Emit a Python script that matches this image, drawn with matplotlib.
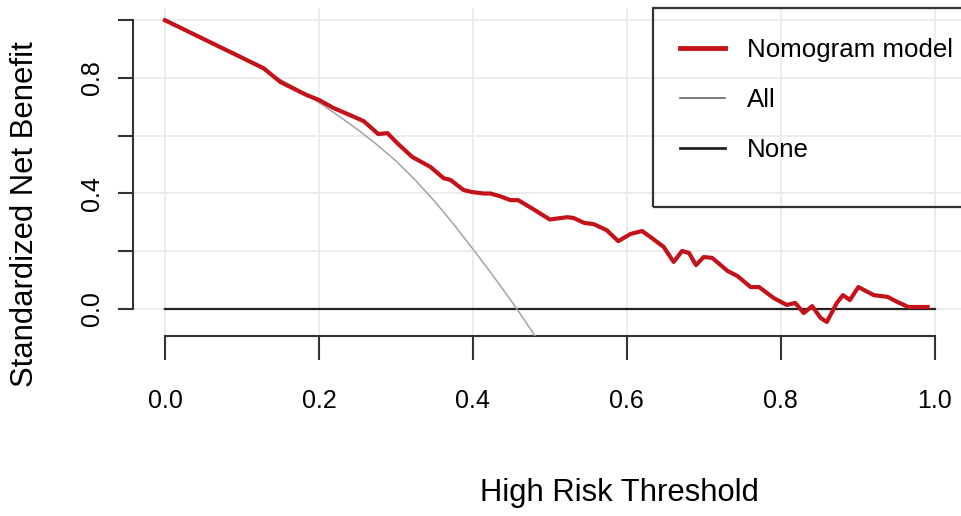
import matplotlib
matplotlib.use("Agg")
import matplotlib.pyplot as plt
from matplotlib.lines import Line2D
from matplotlib.patches import Rectangle

plt.rcParams['font.family'] = ['Liberation Sans', 'DejaVu Sans']

# --- DATA ---
# nomogram model: threshold vs standardized net benefit
model_x = [0.0, 0.128, 0.15, 0.184, 0.2, 0.219, 0.24, 0.258, 0.267, 0.277,
           0.289, 0.302, 0.321, 0.345, 0.362, 0.371, 0.388, 0.399, 0.414,
           0.423, 0.436, 0.449, 0.459, 0.479, 0.5, 0.523, 0.531, 0.545,
           0.557, 0.574, 0.589, 0.605, 0.62, 0.631, 0.648, 0.661, 0.672,
           0.681, 0.69, 0.7, 0.711, 0.731, 0.744, 0.761, 0.772, 0.791,
           0.808, 0.819, 0.83, 0.841, 0.852, 0.86, 0.873, 0.881, 0.89,
           0.901, 0.921, 0.939, 0.952, 0.966, 0.991]
model_y = [1.0, 0.834, 0.786, 0.741, 0.724, 0.696, 0.672, 0.651, 0.63, 0.606,
           0.609, 0.574, 0.527, 0.492, 0.453, 0.447, 0.412, 0.405, 0.40,
           0.40, 0.39, 0.377, 0.377, 0.345, 0.31, 0.318, 0.315, 0.298,
           0.294, 0.273, 0.235, 0.26, 0.27, 0.249, 0.215, 0.163, 0.201,
           0.194, 0.152, 0.18, 0.177, 0.132, 0.114, 0.076, 0.076, 0.038,
           0.014, 0.021, -0.014, 0.01, -0.031, -0.045, 0.021, 0.048, 0.031,
           0.076, 0.048, 0.042, 0.024, 0.007, 0.007]

# treat-all curve
all_x = [0.0, 0.025, 0.05, 0.075, 0.1, 0.125, 0.15, 0.175, 0.2, 0.225,
         0.25, 0.275, 0.3, 0.325, 0.35, 0.375, 0.4, 0.425, 0.45, 0.465,
         0.48, 0.49]
all_y = [1.0, 0.97, 0.938, 0.904, 0.869, 0.832, 0.795, 0.757, 0.715, 0.67,
         0.622, 0.57, 0.513, 0.447, 0.374, 0.294, 0.208, 0.12, 0.028,
         -0.03, -0.09, -0.132]

# treat-none
none_x = [0.0, 1.0]
none_y = [0.0, 0.0]

x_ticks = [0.0, 0.2, 0.4, 0.6, 0.8, 1.0]
x_ticklabels = ['0.0', '0.2', '0.4', '0.6', '0.8', '1.0']
y_ticks = [0.0, 0.2, 0.4, 0.6, 0.8, 1.0]
y_ticklabels = ['0.0', '', '0.4', '', '0.8', '']

labels = ['Nomogram model', 'All', 'None']

RED = '#c4121a'
GRAY = '#a3a3a3'
DARK = '#222222'
AXC = '#333333'

W, H = 961, 516
fig = plt.figure(figsize=(W / 100, H / 100), dpi=100)

# plot region in pixels: left 133, right 961, top 8, bottom 336
ax = fig.add_axes([133 / W, 1 - 336 / H, (961 - 133) / W, (336 - 8) / H])
ax.set_xlim(-0.0416, 1.0344)
ax.set_ylim(-0.0935, 1.0424)

ax.grid(True, color='#ebebeb', linewidth=1.3)
ax.set_axisbelow(True)

ax.plot(none_x, none_y, color=DARK, linewidth=1.6, zorder=3)
ax.plot(all_x, all_y, color=GRAY, linewidth=1.1, zorder=3)
ax.plot(model_x, model_y, color=RED, linewidth=3.0, zorder=4,
        solid_joinstyle='round')

for s in ['top', 'right']:
    ax.spines[s].set_visible(False)
ax.spines['left'].set_bounds(0, 1)
ax.spines['bottom'].set_bounds(0, 1)
for s in ['left', 'bottom']:
    ax.spines[s].set_color(AXC)
    ax.spines[s].set_linewidth(1.5)

ax.set_xticks(x_ticks)
ax.set_xticklabels(x_ticklabels)
ax.set_yticks(y_ticks)
ax.set_yticklabels(y_ticklabels, rotation=90, va='center')
ax.tick_params(axis='x', length=17, width=1.5, color=AXC, labelsize=18,
               pad=21)
ax.tick_params(axis='y', length=11, width=1.5, color=AXC, labelsize=18,
               pad=10)

fig.text(619 / W, 1 - 493 / H, 'High Risk Threshold', fontsize=22.3,
         ha='center', va='center')
fig.text(25 / W, 1 - 214 / H, 'Standardized Net Benefit', fontsize=22.3,
         ha='center', va='center', rotation=90)

# legend box (right edge runs past the image)
fig.patches.append(Rectangle((653 / W, 1 - 207 / H), 330 / W, 199 / H,
                             transform=fig.transFigure, fill=False,
                             edgecolor=AXC, linewidth=1.6, zorder=5))
handles = [Line2D([], [], color=RED, linewidth=3.5),
           Line2D([], [], color='#666666', linewidth=1.2),
           Line2D([], [], color=DARK, linewidth=2.0)]
leg = fig.legend(handles, labels, loc='upper left',
                 bbox_to_anchor=(680 / W, 1 - 38 / H), frameon=False,
                 fontsize=18.6, handlelength=1.75, handletextpad=0.85,
                 labelspacing=1.0, borderaxespad=0, borderpad=0)

fig.savefig('out.png', dpi=100)
